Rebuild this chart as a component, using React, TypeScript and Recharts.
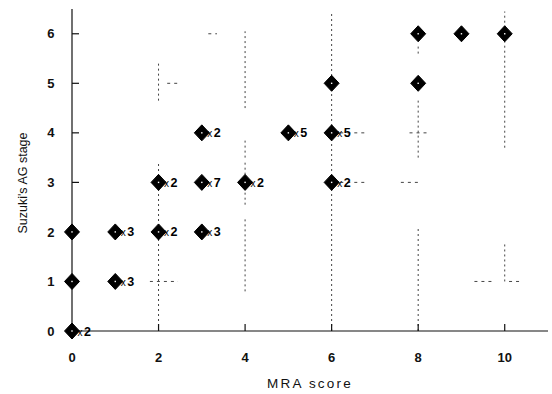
import React from 'react';
import { ScatterChart, Scatter, XAxis, YAxis, ReferenceLine } from 'recharts';

// Data
const mraScore = [0, 0, 0, 1, 1, 2, 2, 3, 3, 3, 4, 5, 6, 6, 6, 8, 8, 9, 10];
const agStage = [0, 1, 2, 1, 2, 2, 3, 2, 3, 4, 3, 4, 3, 4, 5, 5, 6, 6, 6];
const counts = [2, 1, 1, 3, 3, 2, 2, 3, 7, 2, 2, 5, 2, 5, 1, 1, 1, 1, 1];

const xTicks = [0, 2, 4, 6, 8, 10];
const yTicks = [0, 1, 2, 3, 4, 5, 6];
const xTitle = 'MRA score';
const yTitle = "Suzuki's AG stage";

// Faint dotted gridline remnants visible in the scan (data units)
// vertical: [x, yFrom, yTo]
const vFragments: [number, number, number][] = [
  [2, 0, 3.4],
  [2, 4.65, 5.4],
  [4, 0.8, 2.3],
  [4, 2.55, 3.45],
  [4, 3.5, 3.9],
  [4, 4.5, 6.05],
  [6, 0, 6.45],
  [8, 0, 2.1],
  [8, 3.5, 4.7],
  [8, 5.6, 5.8],
  [10, 1.0, 1.8],
  [10, 3.7, 6.45],
];
// horizontal: [y, xFrom, xTo]
const hFragments: [number, number, number][] = [
  [6, 3.15, 3.35],
  [5, 2.2, 2.45],
  [4, 6.2, 6.8],
  [4, 7.8, 8.2],
  [3, 6.2, 6.8],
  [3, 7.6, 8.0],
  [1, 1.8, 2.45],
  [1, 9.3, 9.7],
  [1, 10.1, 10.4],
];

const points = mraScore.map((x, i) => ({ x, y: agStage[i], n: counts[i] }));

const FONT = '"Liberation Sans", Arial, sans-serif';

function Diamond(props: any) {
  const { cx, cy, payload } = props;
  if (cx == null || cy == null) return null;
  return (
    <g>
      <polygon
        points={`${cx},${cy - 8} ${cx + 7.5},${cy} ${cx},${cy + 8} ${cx - 7.5},${cy}`}
        fill="#000"
        stroke="#000"
        strokeWidth={1}
        strokeLinejoin="round"
      />
      <rect x={cx - 0.7} y={cy - 0.7} width={1.4} height={1.4} fill="#fff" />
      {payload.n > 1 && (
        <text x={cx + 5.5} y={cy + 4.5} fontFamily={FONT} fill="#000">
          <tspan fontSize={10}>x</tspan>
          <tspan fontSize={12.5} fontWeight="bold" dx={1.5}>
            {payload.n}
          </tspan>
        </text>
      )}
    </g>
  );
}

const XTitle = (props: any) => {
  const vb = props.viewBox || { x: 72, y: 331, width: 476, height: 63 };
  return (
    <text
      x={vb.x + vb.width / 2}
      y={vb.y + 57}
      textAnchor="middle"
      fontFamily={FONT}
      fontSize={13.5}
      letterSpacing={2.2}
      fill="#111"
    >
      {xTitle}
    </text>
  );
};

const YTitle = (props: any) => {
  const vb = props.viewBox || { x: 0, y: 9, width: 72, height: 322 };
  const cx = vb.x + 23;
  const cy = vb.y + vb.height / 2 + 13;
  return (
    <text
      x={cx}
      y={cy}
      transform={`rotate(-90, ${cx}, ${cy})`}
      textAnchor="middle"
      dominantBaseline="central"
      fontFamily={FONT}
      fontSize={12.5}
      fill="#111"
    >
      {yTitle}
    </text>
  );
};

export default function App() {
  return (
    <div style={{ position: 'absolute', left: 0, top: 0, background: '#fff' }}>
      <ScatterChart width={552} height={394} margin={{ top: 9, right: 4, bottom: 0, left: 0 }}>
        <XAxis
          type="number"
          dataKey="x"
          domain={[0, 11]}
          ticks={xTicks}
          interval={0}
          height={63}
          tickSize={-7}
          tickMargin={29}
          axisLine={{ stroke: '#111', strokeWidth: 1.2 }}
          tickLine={{ stroke: '#111', strokeWidth: 1.2 }}
          tick={{ fill: '#111', fontSize: 13, fontWeight: 'bold', fontFamily: FONT }}
          label={{ content: XTitle }}
        />
        <YAxis
          type="number"
          dataKey="y"
          domain={[0, 6.5]}
          ticks={yTicks}
          interval={0}
          width={72}
          tickSize={-7}
          tickMargin={24.5}
          axisLine={{ stroke: '#111', strokeWidth: 1.2 }}
          tickLine={{ stroke: '#111', strokeWidth: 1.2 }}
          tick={{ fill: '#111', fontSize: 13, fontWeight: 'bold', fontFamily: FONT }}
          label={{ content: YTitle }}
        />
        {vFragments.map((f, i) => (
          <ReferenceLine
            key={'v' + i}
            segment={[
              { x: f[0], y: f[1] },
              { x: f[0], y: f[2] },
            ]}
            stroke="#444"
            strokeWidth={1}
            strokeDasharray="2 3"
            ifOverflow="visible"
          />
        ))}
        {hFragments.map((f, i) => (
          <ReferenceLine
            key={'h' + i}
            segment={[
              { x: f[1], y: f[0] },
              { x: f[2], y: f[0] },
            ]}
            stroke="#444"
            strokeWidth={1}
            strokeDasharray="3 4"
            ifOverflow="visible"
          />
        ))}
        <Scatter data={points} shape={Diamond} isAnimationActive={false} />
      </ScatterChart>
    </div>
  );
}
